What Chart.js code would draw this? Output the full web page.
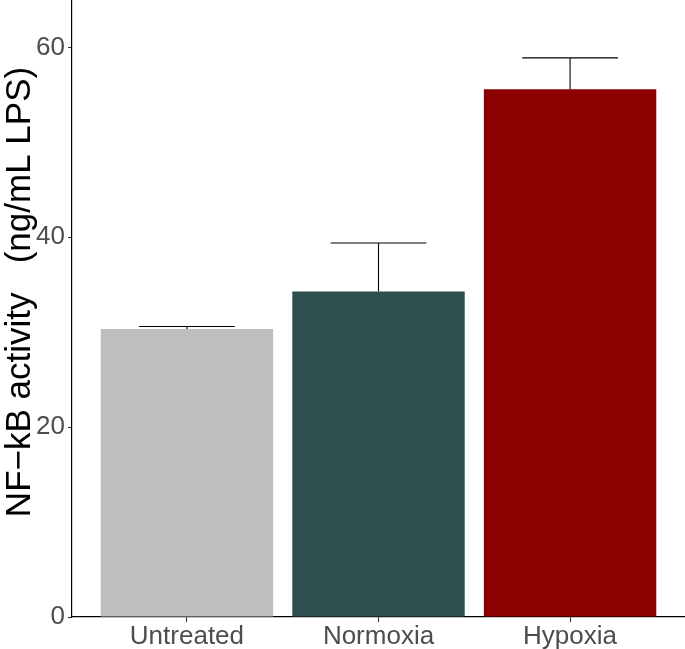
<!DOCTYPE html>
<html>
<head>
<meta charset="utf-8">
<script src="https://cdn.jsdelivr.net/npm/chart.js@4"></script>
<style>
  body { margin: 0; background: #fff; }
</style>
</head>
<body>
<canvas id="nfkbChart" width="685" height="649"></canvas>
<script>
// data
const groups = ["Untreated", "Normoxia", "Hypoxia"];
const activity = [30.35, 34.3, 55.6];
const errorTop = [30.6, 39.4, 58.9];
const yTicks = [0, 20, 40, 60];
const barColors = ["#BEBEBE", "#2F4F4F", "#8B0000"];

const FONT = "'Liberation Sans', Arial, sans-serif";

// upper error bars (whiskers half a category wide)
const errorBars = {
  id: "errorBars",
  afterDatasetsDraw(chart) {
    const { ctx, scales: { x, y } } = chart;
    ctx.save();
    ctx.strokeStyle = "#000";
    ctx.lineWidth = 1.1;
    errorTop.forEach((top, i) => {
      const cx = x.getPixelForValue(i + 1);
      const x0 = x.getPixelForValue(i + 1 - 0.25);
      const x1 = x.getPixelForValue(i + 1 + 0.25);
      const yBar = y.getPixelForValue(activity[i]);
      const yTop = y.getPixelForValue(top);
      ctx.beginPath();
      ctx.moveTo(cx, yBar);
      ctx.lineTo(cx, yTop);
      ctx.moveTo(x0, yTop);
      ctx.lineTo(x1, yTop);
      ctx.stroke();
    });
    ctx.restore();
  }
};

// y axis title, placed like the original
const yTitle = {
  id: "yTitle",
  afterDraw(chart) {
    const ctx = chart.ctx;
    ctx.save();
    ctx.translate(30, 292);
    ctx.rotate(-Math.PI / 2);
    ctx.font = "35px " + FONT;
    ctx.fillStyle = "#000";
    ctx.textAlign = "center";
    ctx.textBaseline = "alphabetic";
    ctx.fillText("NF\u2212kB activity   (ng/mL LPS)", 0, 0);
    ctx.restore();
  }
};

new Chart(document.getElementById("nfkbChart"), {
  type: "bar",
  data: {
    datasets: [{
      data: groups.map((g, i) => ({ x: i + 1, y: activity[i] })),
      backgroundColor: barColors,
      borderWidth: 0,
      barPercentage: 0.9,
      categoryPercentage: 1.0
    }]
  },
  options: {
    responsive: false,
    animation: false,
    layout: { padding: 0 },
    plugins: {
      legend: { display: false },
      tooltip: { enabled: false }
    },
    scales: {
      x: {
        type: "linear",
        min: 0.4,
        max: 3.6,
        offset: false,
        afterBuildTicks: (scale) => {
          scale.ticks = groups.map((g, i) => ({ value: i + 1 }));
        },
        afterFit: (scale) => {
          scale.height = 32;
          scale.paddingLeft = 0;
          scale.paddingRight = 0;
        },
        border: { display: true, color: "#000", width: 1.2 },
        grid: { drawOnChartArea: false, offset: false, tickLength: 5, tickColor: "#333", tickWidth: 1.1 },
        ticks: {
          autoSkip: false,
          maxRotation: 0,
          padding: -1,
          color: "#4D4D4D",
          font: { family: FONT, size: 26 },
          callback: (v) => groups[v - 1]
        }
      },
      y: {
        min: 0,
        max: 65,
        afterBuildTicks: (scale) => {
          scale.ticks = yTicks.map((v) => ({ value: v }));
        },
        afterFit: (scale) => {
          scale.width = 72;
          scale.paddingTop = 0;
          scale.paddingBottom = 0;
        },
        border: { display: true, color: "#000", width: 1.2 },
        grid: { drawOnChartArea: false, tickLength: 4, tickColor: "#333", tickWidth: 1.1 },
        ticks: {
          padding: 3,
          color: "#4D4D4D",
          font: { family: FONT, size: 26 }
        }
      }
    }
  },
  plugins: [errorBars, yTitle]
});
</script>
</body>
</html>
